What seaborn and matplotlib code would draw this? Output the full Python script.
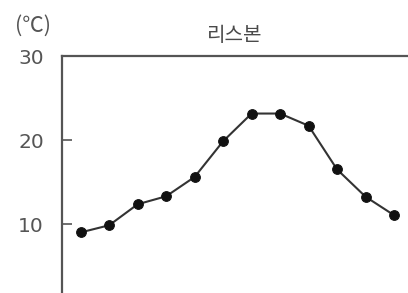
import matplotlib
matplotlib.use("Agg")
import matplotlib.pyplot as plt
import seaborn as sns
import pandas as pd

months = [1, 2, 3, 4, 5, 6, 7, 8, 9, 10, 11, 12]
temps = [9.0, 9.85, 12.35, 13.3, 15.6, 19.85, 23.15, 23.15, 21.7, 16.5, 13.25, 11.05]
yticks = [10, 20, 30]
title = "리스본"
unit = "(℃)"

sns.set_style("white")
plt.rcParams['font.family'] = ['Noto Sans CJK KR', 'DejaVu Sans']

W, H = 408, 293
fig = plt.figure(figsize=(W / 100, H / 100), dpi=100)
left, right, top, bottom = 62, 407, 56, 308
ax = fig.add_axes([left / W, (H - bottom) / H, (right - left) / W, (bottom - top) / H])

df = pd.DataFrame({"month": months, "temp": temps})
sns.lineplot(data=df, x="month", y="temp", ax=ax, color="#333333", linewidth=1.5,
             marker="o", markersize=7, markerfacecolor="#111111", markeredgecolor="#111111")

ax.set_xlim(0.344, 12.456)
ax.set_ylim(0, 30)
ax.set_yticks(yticks)
ax.set_yticklabels([str(t) for t in yticks], fontsize=14.5, color="#555555", family=['DejaVu Sans'])
ax.set_xticks([])
ax.set_xlabel("")
ax.set_ylabel("")
ax.tick_params(axis="y", direction="in", length=7, width=1.2, color="#555555", pad=13, left=True)
for s in ["left", "top"]:
    ax.spines[s].set_color("#555555")
    ax.spines[s].set_linewidth(1.6)
ax.spines["right"].set_visible(False)
ax.spines["bottom"].set_visible(False)

ax.set_title(title, fontsize=14.5, color="#4a4a4a", pad=11)
fig.text(33 / W, 1 - 26 / H, unit, fontsize=15.5, color="#555555", ha="center", va="center",
         family=['Noto Sans CJK KR', 'DejaVu Sans'])

fig.savefig("out.png", dpi=100)
